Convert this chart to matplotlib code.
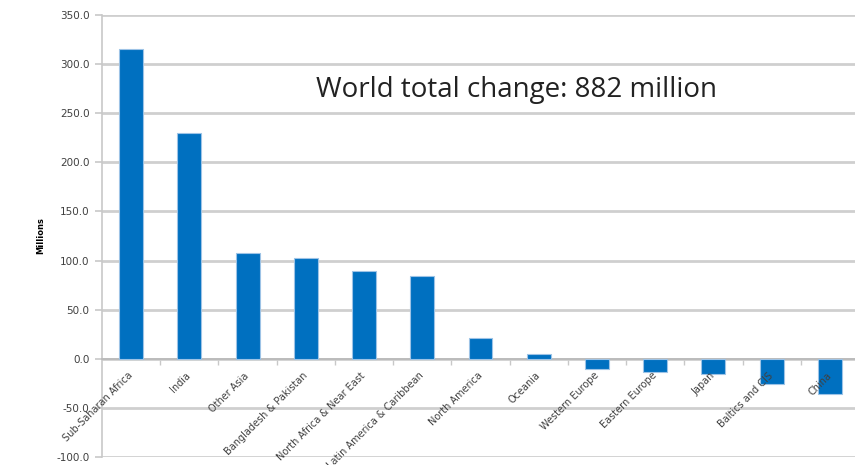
import matplotlib.pyplot as plt

regions = ['Sub-Saharan Africa', 'India', 'Other Asia', 'Bangladesh & Pakistan',
           'North Africa & Near East', 'Latin America & Caribbean', 'North America',
           'Oceania', 'Western Europe', 'Eastern Europe', 'Japan', 'Baltics and CIS', 'China']
change = [315, 230, 108, 103, 89, 84, 21, 5, -10, -13, -16, -26, -36]
y_ticks = [-100, -50, 0, 50, 100, 150, 200, 250, 300, 350]

fig = plt.figure(figsize=(8.55, 4.65), dpi=100)
ax = fig.add_axes([102 / 855, 8 / 465, 757 / 855, 442 / 465])

x = list(range(len(regions)))
ax.bar(x, change, width=0.41, color='#0070C0', edgecolor='#9dc3e6', linewidth=0.8, zorder=3)

ax.set_xlim(-0.5, len(regions) - 0.5)
ax.set_ylim(-100, 350)
ax.set_yticks(y_ticks)
ax.set_yticklabels(['%.1f' % v for v in y_ticks], fontsize=7.5, color='#404040')
ax.yaxis.grid(True, color='#cfcfcf', linewidth=2.0, zorder=0)
ax.tick_params(axis='y', length=5, width=1.2, color='#c8c8c8', pad=4)

for s in ['top', 'right']:
    ax.spines[s].set_visible(False)
ax.spines['left'].set_color('#c8c8c8')
ax.spines['left'].set_linewidth(1.2)
ax.spines['bottom'].set_position(('data', 0))
ax.spines['bottom'].set_color('#b8b8b8')
ax.spines['bottom'].set_linewidth(1.2)

ax.set_xticks([i + 0.5 for i in x])
ax.set_xticklabels([])
ax.tick_params(axis='x', length=4, width=1.0, color='#c8c8c8')

for i, name in enumerate(regions):
    ax.annotate(name, xy=(i, 0), xytext=(0, -11), textcoords='offset points',
                rotation=45, rotation_mode='anchor', ha='right', va='center',
                fontsize=7.0, color='#404040')

ax.set_ylabel('Millions', fontsize=6, fontweight='bold', labelpad=8)
ax.text(0.548, 0.83, 'World total change: 882 million', transform=ax.transAxes,
        ha='center', va='center', fontsize=20, family='Open Sans', color='#222222')

fig.savefig('out.png', dpi=100)
